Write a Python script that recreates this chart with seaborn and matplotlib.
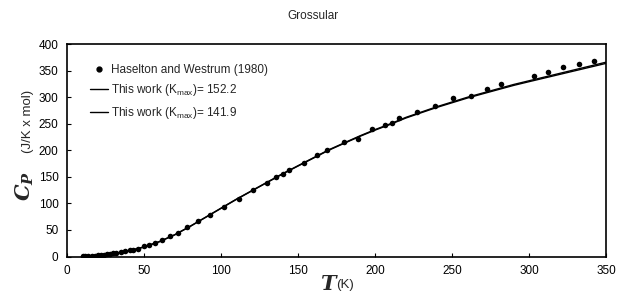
import matplotlib
matplotlib.use("Agg")
import matplotlib.pyplot as plt
import seaborn as sns
import pandas as pd
from matplotlib.lines import Line2D

# ---- data ----
t_obs = [10.6, 12, 14, 16, 18, 20, 22, 24, 26, 28, 30, 32, 35, 38, 41, 43, 46,
         50, 53, 57, 61.5, 67, 72, 78, 85, 93, 102, 111.5, 121, 130, 135.5, 140,
         144, 154, 162, 169, 180, 188.7, 198, 206.5, 211, 215.8, 227, 239, 250.5,
         262, 272.5, 282, 303, 312, 322, 332.5, 342]
cp_obs = [0.3, 0.5, 0.8, 1.2, 1.6, 2.1, 2.7, 3.4, 4.2, 5.0, 6.0, 7.0, 8.5, 10, 11.5, 13, 15,
          19, 22, 26, 32, 39, 45, 55, 66, 79, 93, 109, 125, 139, 149, 156,
          162, 176, 191, 200, 216, 222, 240, 248, 252, 260, 272, 284, 298,
          303, 315, 325, 340, 348, 357, 363, 369]

t_fit = [10, 20, 30, 40, 50, 60, 70, 80, 90, 100, 110, 120, 130, 140, 150, 160, 170,
         180, 190, 200, 210, 220, 230, 240, 250, 260, 270, 280, 290, 300, 310, 320,
         330, 340, 350]
cp_fit1 = [0.3, 1.8, 5, 10.5, 18, 28, 41, 57, 74, 91, 108, 124, 140, 156, 171, 186, 201,
           214, 227, 239, 250, 262, 272, 282, 291, 300, 308, 316, 324, 331, 338, 345,
           352, 359, 366]
cp_fit2 = [0.3, 1.8, 5, 10.4, 17.8, 27.8, 40.8, 56.6, 73.6, 90.6, 107.5, 123.5, 139.5, 155.4, 170.4,
           185.3, 200.2, 213.2, 226.1, 238, 249, 260.8, 270.8, 280.7, 289.6, 298.5, 306.5,
           314.4, 322.3, 329.3, 336.2, 343.1, 350, 356.9, 363.8]

x_ticks = [0, 50, 100, 150, 200, 250, 300, 350]
y_ticks = [0, 50, 100, 150, 200, 250, 300, 350, 400]

labels = ["Haselton and Westrum (1980)",
          r"This work (K$_{\mathrm{max}}$)= 152.2",
          r"This work (K$_{\mathrm{max}}$)= 141.9"]

obs = pd.DataFrame({"T": t_obs, "Cp": cp_obs})
fit = pd.DataFrame({"T": t_fit * 2, "Cp": cp_fit1 + cp_fit2,
                    "model": [labels[1]] * len(t_fit) + [labels[2]] * len(t_fit)})

sns.set_theme(style="ticks")
plt.rcParams["font.family"] = ["Liberation Sans", "DejaVu Sans"]
plt.rcParams["mathtext.fontset"] = "custom"
plt.rcParams["mathtext.rm"] = "Liberation Sans"
plt.rcParams["mathtext.bf"] = "DejaVu Serif:bold:italic"

fig = plt.figure(figsize=(6.25, 3.0), dpi=100)
ax = fig.add_axes([0.107, 0.145, 0.863, 0.708])

sns.lineplot(data=fit, x="T", y="Cp", units="model", estimator=None, color="black",
             lw=1.0, ax=ax, legend=False)
sns.scatterplot(data=obs, x="T", y="Cp", color="black", s=16, edgecolor="black",
                linewidth=0, ax=ax, zorder=3)

ax.set_xlim(0, 350)
ax.set_ylim(0, 400)
ax.set_xticks(x_ticks)
ax.set_yticks(y_ticks)
ax.tick_params(direction="in", length=3, width=0.8, labelsize=8.5, colors="black", pad=6)
for s in ax.spines.values():
    s.set_visible(True)
    s.set_color("black")
    s.set_linewidth(1.2)
ax.set_xlabel("")
ax.set_ylabel("")

handles = [Line2D([], [], marker="o", ls="", color="black", markersize=3.5),
           Line2D([], [], color="black", lw=1.0),
           Line2D([], [], color="black", lw=1.0)]
ax.legend(handles, labels, loc="upper left", bbox_to_anchor=(0.035, 0.93), frameon=False,
          fontsize=8.5, handlelength=1.5, handletextpad=0.25, labelspacing=0.55,
          borderaxespad=0)

fig.text(0.5, 0.948, "Grossular", ha="center", va="center", fontsize=8.5)

fig.text(0.04, 0.33, r"$\mathbf{C_P}$", rotation=90, ha="center", va="bottom", fontsize=15)
fig.text(0.045, 0.49, "(J/K x mol)", rotation=90, ha="center", va="bottom", fontsize=9.5)

fig.text(0.537, 0.035, "T", ha="right", va="baseline", fontsize=15,
         family="DejaVu Serif", style="italic", weight="bold")
fig.text(0.538, 0.04, "(K)", ha="left", va="baseline", fontsize=9.5)

fig.savefig("out.png", dpi=100)
